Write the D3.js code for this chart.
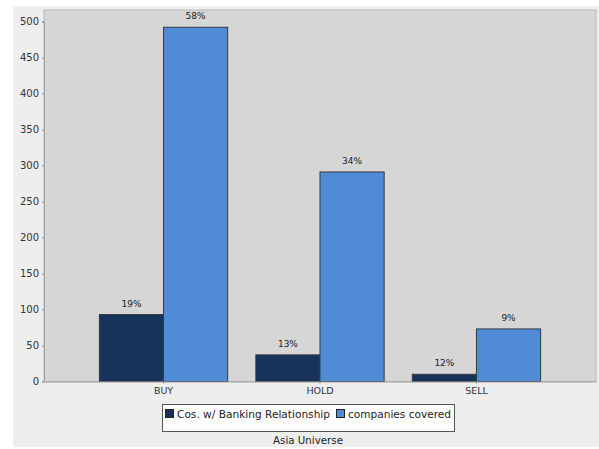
<!DOCTYPE html>
<html><head><meta charset="utf-8">
<script src="https://cdn.jsdelivr.net/npm/d3@7"></script>
<style>html,body{margin:0;padding:0;background:#fff;}svg{display:block;}</style>
</head><body>
<svg id="c" width="599" height="449"></svg>
<script>
const categories = ["BUY", "HOLD", "SELL"];
const seriesNames = ["Cos. w/ Banking Relationship", "companies covered"];
const banking = [93, 37, 10];
const covered = [492, 291, 73];
const bankingLabels = ["19%", "13%", "12%"];
const coveredLabels = ["58%", "34%", "9%"];
const yTicks = [0, 50, 100, 150, 200, 250, 300, 350, 400, 450, 500];
const colors = ["#17335a", "#508cd6"];
const xTitle = "Asia Universe";

const svg = d3.select("#c");
const fontFam = "'DejaVu Sans', sans-serif";
svg.append("rect").attr("x", 13).attr("y", 6).attr("width", 586).attr("height", 441).attr("fill", "#eeeeee");

const plot = {l: 44, r: 596, t: 10, b: 381.5};
svg.append("rect").attr("x", plot.l).attr("y", plot.t).attr("width", plot.r - plot.l).attr("height", plot.b - plot.t)
  .attr("fill", "#d6d6d6").attr("stroke", "#b8b8b8").attr("stroke-width", 1);

const y = d3.scaleLinear().domain([0, 500]).range([plot.b, plot.b - 360]);
const x0 = d3.scaleBand().domain(categories).range([plot.l, plot.r]).paddingInner(0.18).paddingOuter(0.354);
const x1 = d3.scaleBand().domain([0, 1]).range([0, x0.bandwidth()]);

const data = categories.map((c, i) => ({c, vals: [banking[i], covered[i]], labs: [bankingLabels[i], coveredLabels[i]]}));

const g = svg.append("g");
data.forEach(d => {
  d.vals.forEach((v, j) => {
    const bx = x0(d.c) + x1(j);
    g.append("rect").attr("x", bx).attr("y", y(v)).attr("width", x1.bandwidth()).attr("height", y(0) - y(v))
      .attr("fill", colors[j]).attr("stroke", "#333a44").attr("stroke-width", 1);
    g.append("text").attr("x", bx + x1.bandwidth() / 2).attr("y", y(v) - 8)
      .attr("text-anchor", "middle").attr("font-family", fontFam).attr("font-size", 9).attr("fill", "#222")
      .text(d.labs[j]);
  });
});

// axes
const yAxis = d3.axisLeft(y).tickValues(yTicks).tickSize(2).tickPadding(3);
const ya = svg.append("g").attr("transform", `translate(${plot.l},0)`).call(yAxis);
ya.select(".domain").attr("stroke", "#a0a0a0");
ya.selectAll(".tick line").attr("stroke", "#888");
ya.selectAll("text").attr("font-family", fontFam).attr("font-size", 10).attr("fill", "#333");

const xAxis = d3.axisBottom(x0).tickSize(2).tickPadding(4).tickSizeOuter(0);
const xa = svg.append("g").attr("transform", `translate(0,${plot.b})`).call(xAxis);
xa.select(".domain").attr("stroke", "#a0a0a0");
xa.selectAll(".tick line").attr("stroke", "#888");
xa.selectAll("text").attr("font-family", fontFam).attr("font-size", 9.5).attr("fill", "#333");

// legend
const lg = svg.append("g");
lg.append("rect").attr("x", 162.5).attr("y", 404.5).attr("width", 292).attr("height", 27).attr("fill", "#fff").attr("stroke", "#555");
const items = [{x: 165, w: 153, name: seriesNames[0]}, {x: 336, w: 103, name: seriesNames[1]}];
items.forEach((it, j) => {
  lg.append("rect").attr("x", it.x + 0.5).attr("y", 409.5).attr("width", 8).attr("height", 8).attr("fill", colors[j]).attr("stroke", "#222");
  lg.append("text").attr("x", it.x + 12).attr("y", 418).attr("font-family", fontFam).attr("font-size", 11)
    .attr("textLength", it.w).attr("lengthAdjust", "spacingAndGlyphs").attr("fill", "#222").text(it.name);
});
svg.append("text").attr("x", 308).attr("y", 444).attr("text-anchor", "middle").attr("font-family", fontFam).attr("font-size", 11)
  .attr("textLength", 70).attr("lengthAdjust", "spacingAndGlyphs").attr("fill", "#222").text(xTitle);
</script>
</body></html>
